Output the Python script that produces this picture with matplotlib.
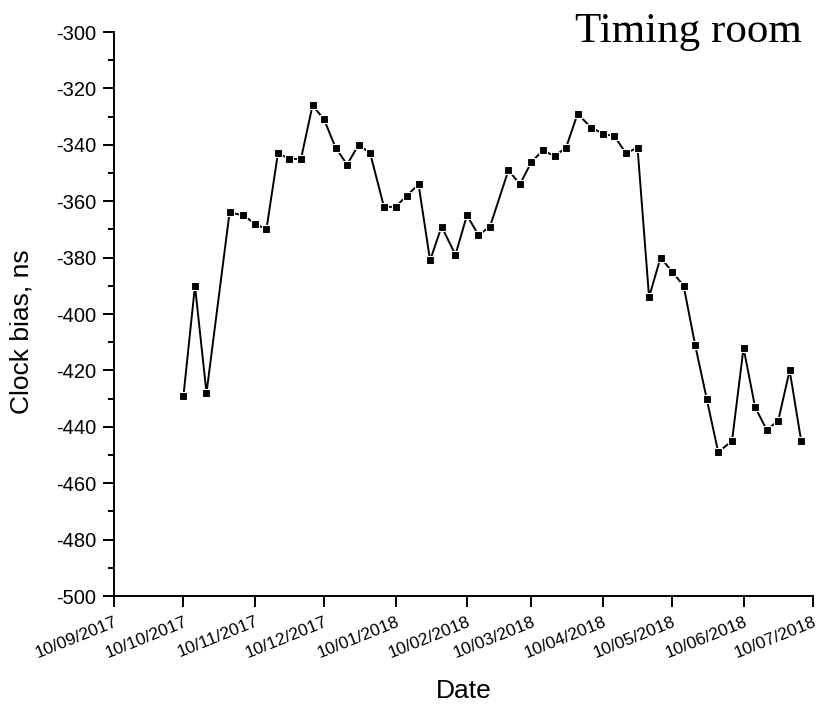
import matplotlib
matplotlib.use('Agg')
import matplotlib.pyplot as plt
import matplotlib.dates as mdates
from matplotlib.ticker import MultipleLocator
import pandas as pd

# 測量日期 (dd/mm/yyyy 顯示)
dates = ['2017-10-10', '2017-10-15', '2017-10-20', '2017-10-30', '2017-11-05',
         '2017-11-10', '2017-11-15', '2017-11-20', '2017-11-25', '2017-11-30',
         '2017-12-05', '2017-12-10', '2017-12-15', '2017-12-20', '2017-12-25',
         '2017-12-30', '2018-01-05', '2018-01-10', '2018-01-15', '2018-01-20',
         '2018-01-25', '2018-01-30', '2018-02-05', '2018-02-10', '2018-02-15',
         '2018-02-20', '2018-02-28', '2018-03-05', '2018-03-10', '2018-03-15',
         '2018-03-20', '2018-03-25', '2018-03-30', '2018-04-05', '2018-04-10',
         '2018-04-15', '2018-04-20', '2018-04-25', '2018-04-30', '2018-05-05',
         '2018-05-10', '2018-05-15', '2018-05-20', '2018-05-25', '2018-05-30',
         '2018-06-05', '2018-06-10', '2018-06-15', '2018-06-20', '2018-06-25',
         '2018-06-30', '2018-07-05']

# 時鐘偏差 ns
bias = [-429, -390, -428, -364, -365, -368, -370, -343, -345, -345,
        -326, -331, -341, -347, -340, -343, -362, -362, -358, -354,
        -381, -369, -379, -365, -372, -369, -349, -354, -346, -342,
        -344, -341, -329, -334, -336, -337, -343, -341, -394, -380,
        -385, -390, -411, -430, -449, -445, -412, -433, -441, -438,
        -420, -445]

x_start = '2017-09-10'
x_end = '2018-07-10'
title = 'Timing room'

plt.rcParams['font.family'] = ['Liberation Sans', 'DejaVu Sans']
plt.rcParams['axes.unicode_minus'] = False

fig = plt.figure(figsize=(8.18, 7.08), dpi=100)
ax = fig.add_axes([114.3 / 818, 1 - 596 / 708, (812.7 - 114.3) / 818, (596 - 32) / 708])

t = pd.to_datetime(dates)
ax.plot(t, bias, color='black', lw=1.4, marker='s', ms=6,
        mfc='black', mec='white', mew=0.8, clip_on=False)

ax.set_xlim(pd.Timestamp(x_start), pd.Timestamp(x_end))
ax.set_ylim(-500, -300)

ax.xaxis.set_major_locator(mdates.MonthLocator(bymonthday=10))
ax.xaxis.set_major_formatter(mdates.DateFormatter('%d/%m/%Y'))
ax.yaxis.set_major_locator(MultipleLocator(20))
ax.yaxis.set_minor_locator(MultipleLocator(10))

for s in ['top', 'right']:
    ax.spines[s].set_visible(False)
for s in ['left', 'bottom']:
    ax.spines[s].set_linewidth(1.4)

ax.tick_params(axis='y', which='major', direction='out', length=8, width=1.4,
               labelsize=14.5, pad=5)
ax.tick_params(axis='y', which='minor', direction='out', length=4.5, width=1.4)
ax.tick_params(axis='x', which='major', direction='out', length=8, width=1.4,
               labelsize=12.5, pad=5)
for lab in ax.get_xticklabels():
    lab.set_rotation(22)
    lab.set_ha('right')
    lab.set_rotation_mode('anchor')

ax.set_xlabel('Date', fontsize=19)
ax.xaxis.set_label_coords(0.5, -0.148)
ax.set_ylabel('Clock bias, ns', fontsize=19)
ax.yaxis.set_label_coords(-0.115, 0.468)

fig.text(802 / 818, 1 - 42 / 708, title, ha='right', va='baseline',
         fontsize=31, family=['Liberation Serif', 'DejaVu Serif'])

fig.savefig('out.png', dpi=100)
